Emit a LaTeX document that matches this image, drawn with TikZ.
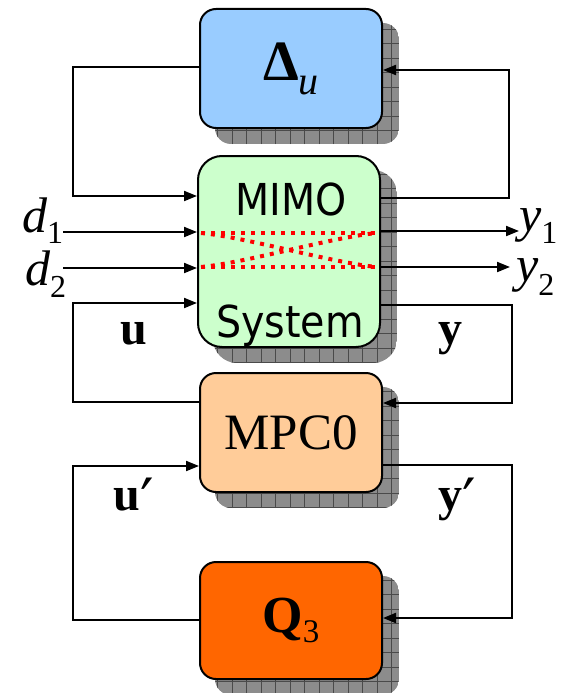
\documentclass[tikz,border=0pt]{standalone}
\usepackage{fontspec}
\usepackage{graphicx}
\setmainfont{Liberation Serif}
\newfontfamily\boxfont{DejaVu Sans Condensed}
\newfontfamily\primefont{DejaVu Serif}
\usetikzlibrary{calc,arrows.meta,backgrounds}

\definecolor{deltablue}{HTML}{99CCFF}
\definecolor{mimogreen}{HTML}{CCFFCC}
\definecolor{mpcorange}{HTML}{FFCC99}
\definecolor{qorange}{HTML}{FF6600}
\definecolor{shadowgray}{HTML}{8C8C8C}
\definecolor{shadowline}{HTML}{4A4A4A}

\tikzset{
  blk/.style={draw=black, line width=2pt, rounded corners=16pt, minimum width=182pt, inner sep=0pt},
  sig/.style={line width=2pt},
  sigarr/.style={sig, -{Triangle[length=13pt,width=10pt]}},
  xtalk/.style={red, line width=4pt, dash pattern=on 4pt off 6pt},
  lbl/.style={inner sep=0pt},
}

% grey chequered drop shadow behind a block
\def\gridshadow(#1:#2){%
  \begin{pgfonlayer}{background}
    \begin{scope}
      \clip[rounded corners=#2] ($(#1.south west)+(16,15)$) rectangle ($(#1.north east)+(16,15)$);
      \fill[shadowgray] ($(#1.south west)+(16,15)$) rectangle ($(#1.north east)+(16,15)$);
      \draw[shadowline, line width=0.8pt, step=14.5pt] ($(#1.south west)+(16,15)$) grid ($(#1.north east)+(16,15)$);
    \end{scope}
  \end{pgfonlayer}}
\def\bigprime{{\primefont\mdseries\fontsize{48}{48}\selectfont\raisebox{-13pt}{\scalebox{1.25}[1.3]{′}}}}

\begin{document}
\begin{tikzpicture}[x=1pt, y=-1pt]
  %%%%% START %%%%%
  \useasboundingbox (0,0) rectangle (566,693);

  % blocks
  \node[blk, fill=deltablue, minimum height=119pt] (delta) at (291,68.5)
    {\fontsize{57}{57}\selectfont\bfseries Δ\raisebox{-14pt}{\fontsize{40}{40}\selectfont\mdseries\itshape u}};
  \node[blk, fill=mimogreen, minimum height=191pt, rounded corners=24pt] (mimo) at (289,251.5) {};
  \node[blk, fill=mpcorange, minimum height=119pt] (mpc) at (291,432.5)
    {\fontsize{51}{51}\selectfont MPC0};
  \node[blk, fill=qorange, minimum height=117pt] (q3) at (291,620.5)
    {\fontsize{52}{52}\selectfont\bfseries Q\raisebox{-10pt}{\fontsize{33}{33}\selectfont\mdseries 3}};

  \gridshadow(delta:16pt)
  \gridshadow(mimo:24pt)
  \gridshadow(mpc:16pt)
  \gridshadow(q3:16pt)

  % inside the plant
  \node[lbl, anchor=base] (mimotop) at (291,215) {\boxfont\fontsize{44}{44}\selectfont MIMO};
  \node[lbl, anchor=base] (mimobot) at (290,337) {\boxfont\fontsize{44}{44}\selectfont System};
  \draw[xtalk] (201,233) -- (377,233);
  \draw[xtalk] (201,267) -- (377,267);
  \draw[xtalk] (201,233) .. controls (245,237) and (333,263) .. (377,267);
  \draw[xtalk] (201,267) .. controls (245,263) and (333,237) .. (377,233);

  % disturbances and outputs
  \node[lbl, anchor=base west] (d1) at (22,232)
    {\fontsize{50}{50}\selectfont\itshape d\raisebox{-11pt}{\fontsize{32}{32}\selectfont\upshape 1}};
  \node[lbl, anchor=base west] (d2) at (25,285)
    {\fontsize{50}{50}\selectfont\itshape d\raisebox{-12pt}{\fontsize{32}{32}\selectfont\upshape 2}};
  \node[lbl, anchor=base west] (y1) at (519,231)
    {\fontsize{50}{50}\selectfont\itshape y\raisebox{-12pt}{\fontsize{32}{32}\selectfont\upshape 1}};
  \node[lbl, anchor=base west] (y2) at (516,281)
    {\fontsize{50}{50}\selectfont\itshape y\raisebox{-14pt}{\fontsize{32}{32}\selectfont\upshape 2}};
  \coordinate (d2s) at (63,268);

  \draw[sigarr] (d1.base east |- 0,232) -- (mimo.west |- 0,232);
  \draw[sigarr] (d2s) -- (d2s -| mimo.west);
  \draw[sigarr] (mimo.east |- 0,231) -- (y1.west |- 0,231);
  \draw[sigarr] (mimo.east |- 0,267) -- (510,267);

  % loop signals
  \node[lbl, anchor=base] (u) at (134,344) {\fontsize{48}{48}\selectfont\bfseries u};
  \node[lbl, anchor=base] (y) at (450,344) {\fontsize{48}{48}\selectfont\bfseries y};
  \node[lbl, anchor=base] (up) at (134,510) {\fontsize{48}{48}\selectfont\bfseries u\bigprime};
  \node[lbl, anchor=base] (yp) at (457,510) {\fontsize{48}{48}\selectfont\bfseries y\bigprime};

  \coordinate (lcol) at (73,0);
  \coordinate (rcol) at (509,0);
  \coordinate (rcolB) at (512,0);

  % uncertainty loop
  \draw[sigarr] (delta.west |- 0,67) -- (lcol |- 0,67) |- (mimo.west |- 0,196);
  \draw[sigarr] (mimo.east |- 0,198) -- (rcol |- 0,198) |- (delta.east |- 0,70);

  % plant <-> MPC0
  \draw[sigarr] (mimo.east |- 0,305) -- (rcolB |- 0,305) |- (mpc.east |- 0,403);
  \draw[sigarr] (mpc.west |- 0,402) -- (lcol |- 0,402) |- (mimo.west |- 0,303);

  % MPC0 <-> Q3
  \draw[sigarr] (mpc.east |- 0,465) -- (rcolB |- 0,465) |- (q3.east |- 0,618);
  \draw[sigarr] (q3.west |- 0,620) -- (lcol |- 0,620) |- (mpc.west |- 0,466);

  %%%%% END %%%%%
\end{tikzpicture}
\end{document}
